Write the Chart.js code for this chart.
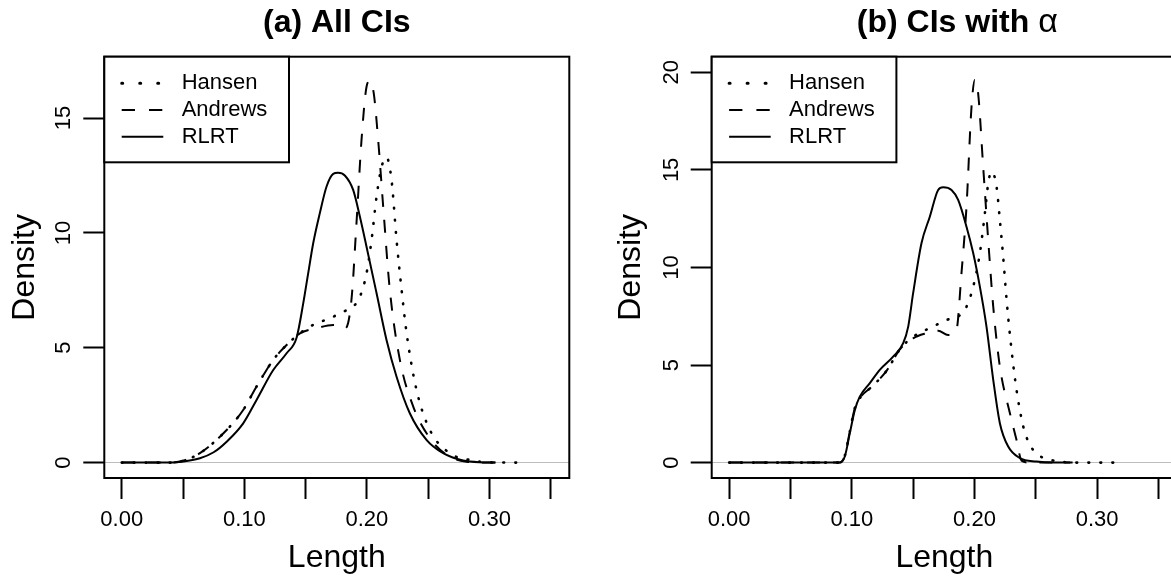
<!DOCTYPE html>
<html>
<head>
<meta charset="utf-8">
<script src="https://cdn.jsdelivr.net/npm/chart.js@4.4.1/dist/chart.umd.min.js"></script>
<style>
  html, body { margin: 0; padding: 0; background: #fff; }
  #wrap { position: relative; width: 1171px; height: 579px; overflow: hidden; background: #fff; }
  canvas { position: absolute; top: 0; }
  #chartA { left: 0; }
  #chartB { left: 585px; }
</style>
</head>
<body>
<div id="wrap">
  <canvas id="chartA" width="585" height="579"></canvas>
  <canvas id="chartB" width="600" height="579"></canvas>
</div>
<script>
const FONT = '"Liberation Sans", Arial, Helvetica, sans-serif'

// x axis, same for both panels
const xTicks = [0, 0.05, 0.10, 0.15, 0.20, 0.25, 0.30, 0.35]
const xTickLabels = ['0.00', '', '0.10', '', '0.20', '', '0.30', '']

// y axis ticks of each panel
const yTicksA = [0, 5, 10, 15]
const yTicksB = [0, 5, 10, 15, 20]

const seriesNames = ['Hansen', 'Andrews', 'RLRT']

// panel (a): All CIs, points are [length, density]
const hansenA = [[0, 0], [0.04, 0], [0.05, 0.08], [0.0638, 0.41], [0.0856, 1.42], [0.0991, 2.29], [0.110, 3.31],
  [0.1236, 4.47], [0.1345, 5.12], [0.1454, 5.63], [0.1535, 5.92], [0.1725, 6.35], [0.1807, 6.57], [0.1888, 6.79],
  [0.1943, 7.22], [0.1997, 8.24], [0.2038, 9.69], [0.2079, 11.58], [0.212, 12.88], [0.216, 13.29], [0.2201, 12.30],
  [0.2242, 9.69], [0.2283, 7.52], [0.2324, 5.63], [0.2405, 3.16], [0.2514, 1.42], [0.2677, 0.41], [0.2867, 0.09],
  [0.30, 0.01], [0.325, 0]]
const andrewsA = [[0, 0], [0.04, 0], [0.05, 0.08], [0.0638, 0.41], [0.0856, 1.42], [0.0991, 2.29], [0.110, 3.31],
  [0.1236, 4.47], [0.1345, 5.12], [0.1454, 5.63], [0.1589, 5.85], [0.1725, 5.99], [0.1795, 5.95], [0.1825, 5.85],
  [0.1874, 7.08], [0.1915, 10.42], [0.1956, 14.04], [0.1997, 16.36], [0.2024, 16.62], [0.2056, 16.07], [0.2092, 14.04],
  [0.2133, 11.14], [0.2187, 7.52], [0.2269, 4.47], [0.2378, 2.44], [0.2514, 1.06], [0.265, 0.34], [0.2813, 0.04],
  [0.295, 0], [0.315, 0]]
const rlrtA = [[0, 0], [0.04, 0], [0.05, 0.05], [0.0638, 0.19], [0.075, 0.45], [0.0856, 0.91], [0.0991, 1.71],
  [0.110, 2.73], [0.1236, 4.03], [0.1345, 4.76], [0.1427, 5.45], [0.1481, 6.94], [0.1521, 8.24], [0.1562, 9.55],
  [0.1616, 10.86], [0.1671, 12.02], [0.1725, 12.57], [0.1765, 12.62], [0.182, 12.5], [0.1888, 11.87], [0.1943, 10.70],
  [0.1997, 9.40], [0.2079, 7.37], [0.216, 5.34], [0.2242, 3.74], [0.235, 2.15], [0.2486, 0.99], [0.2622, 0.41],
  [0.2785, 0.09], [0.2948, 0.01], [0.305, 0]]

// panel (b): CIs with alpha
const hansenB = [[0, 0], [0.09, 0], [0.0943, 0.35], [0.0984, 1.6], [0.1025, 2.8], [0.1065, 3.3], [0.1174, 3.95],
  [0.1283, 4.7], [0.1392, 5.8], [0.15, 6.45], [0.1663, 6.97], [0.1772, 7.31], [0.1867, 7.48], [0.1935, 7.99],
  [0.199, 9.02], [0.2044, 10.73], [0.2085, 12.78], [0.2112, 14.31], [0.2139, 14.91], [0.218, 14.14], [0.2207, 12.43],
  [0.2234, 10.55], [0.2262, 8.33], [0.2302, 5.78], [0.2343, 3.72], [0.2398, 1.84], [0.2452, 0.91], [0.252, 0.39],
  [0.2601, 0.17], [0.2696, 0.05], [0.28, 0], [0.318, 0]]
const andrewsB = [[0, 0], [0.09, 0], [0.0943, 0.35], [0.0984, 1.6], [0.1025, 2.8], [0.1065, 3.3], [0.1174, 3.95],
  [0.1283, 4.7], [0.1392, 5.8], [0.15, 6.37], [0.1609, 6.63], [0.1704, 6.76], [0.1785, 6.54], [0.1853, 6.80],
  [0.1894, 9.70], [0.1935, 13.11], [0.1976, 18.24], [0.2003, 19.61], [0.203, 18.92], [0.2071, 15.16], [0.2112, 11.41],
  [0.2153, 7.99], [0.2207, 4.92], [0.2289, 2.53], [0.2343, 1.16], [0.2384, 0.1], [0.245, 0], [0.28, 0]]
const rlrtB = [[0, 0], [0.09, 0], [0.0943, 0.31], [0.0984, 1.51], [0.1025, 2.70], [0.1065, 3.38], [0.1147, 4.07],
  [0.1228, 4.75], [0.1337, 5.43], [0.1419, 6.12], [0.146, 6.97], [0.15, 8.68], [0.1568, 11.24], [0.1636, 12.60],
  [0.1704, 13.97], [0.1745, 14.11], [0.1813, 13.97], [0.1867, 13.46], [0.1935, 12.09], [0.199, 10.73], [0.2044, 9.02],
  [0.2098, 6.97], [0.2153, 4.24], [0.2207, 2.02], [0.2275, 0.82], [0.237, 0.23], [0.2506, 0.05], [0.265, 0], [0.278, 0]]

// line type of each series (R lty 3, 2, 1)
const lineDash = { Hansen: [0.8, 11.2], Andrews: [13, 13], RLRT: [] }
const lineWidth = { Hansen: 2.6, Andrews: 2, RLRT: 2 }
const legendDash = { Hansen: [1, 17], Andrews: [13.3, 14], RLRT: [] }

// Function that turns the point lists into datasets
const buildDatasets = (curves) => {
  return seriesNames.map((name, i) => ({
    label: name,
    data: curves[i].map(([x, y]) => ({ x, y })),
    borderColor: '#000',
    borderWidth: lineWidth[name],
    borderDash: lineDash[name],
    borderCapStyle: name === 'Hansen' ? 'round' : 'butt',
    pointRadius: 0,
    fill: false,
    cubicInterpolationMode: 'monotone'
  }))
}

// Plugin that draws the R look: box, legend, rotated y labels, main title
const rStyle = {
  id: 'rStyle',
  afterDatasetsDraw(chart, args, opts) {
    const { ctx, chartArea: a } = chart
    ctx.save()
    ctx.strokeStyle = '#000'
    ctx.lineWidth = 2
    ctx.strokeRect(a.left, a.top, a.right - a.left, a.bottom - a.top)

    // legend in the top left corner
    ctx.fillStyle = '#fff'
    ctx.fillRect(a.left, a.top, 184.7, 105.6)
    ctx.strokeRect(a.left, a.top, 184.7, 105.6)
    ctx.font = `22px ${FONT}`
    ctx.textBaseline = 'middle'
    ctx.textAlign = 'left'
    chart.data.datasets.forEach((ds, i) => {
      const y = a.top + 26.6 + i * 26.7
      ctx.beginPath()
      ctx.setLineDash(legendDash[ds.label])
      ctx.lineWidth = ds.label === 'Hansen' ? 3 : 2
      ctx.lineCap = ds.label === 'Hansen' ? 'round' : 'butt'
      ctx.moveTo(a.left + 17.4, y)
      ctx.lineTo(a.left + 59, y)
      ctx.stroke()
      ctx.setLineDash([])
      ctx.fillStyle = '#000'
      ctx.fillText(ds.label, a.left + 77.4, y)
    })
    ctx.restore()
  },
  afterDraw(chart, args, opts) {
    const { ctx, chartArea: a } = chart
    const yScale = chart.scales.y
    ctx.save()
    ctx.fillStyle = '#000'
    ctx.font = `22px ${FONT}`
    ctx.textAlign = 'center'
    ctx.textBaseline = 'middle'
    yScale.ticks.forEach(t => {
      ctx.save()
      ctx.translate(a.left - 40, yScale.getPixelForValue(t.value))
      ctx.rotate(-Math.PI / 2)
      ctx.fillText(String(t.value), 0, 0)
      ctx.restore()
    })

    // main title, bold part and plain part
    const bold = `bold 32px ${FONT}`
    const plain = `34px ${FONT}`
    ctx.font = bold
    const w1 = ctx.measureText(opts.title).width
    ctx.font = plain
    const w2 = opts.symbol ? ctx.measureText(opts.symbol).width : 0
    const x0 = (a.left + a.right) / 2 + (opts.shift || 0) - (w1 + w2) / 2
    ctx.textAlign = 'left'
    ctx.textBaseline = 'alphabetic'
    ctx.font = bold
    ctx.fillText(opts.title, x0, 32)
    if (opts.symbol) {
      ctx.font = plain
      ctx.fillText(opts.symbol, x0 + w1, 32)
    }
    ctx.restore()
  }
}

// Function that creates one panel
const panel = (id, curves, yTicks, yMin, yMax, yWidth, rightPad, densityPad, titleOpts) => {
  const ctx = document.getElementById(id).getContext('2d')
  return new Chart(ctx, {
    type: 'line',
    data: { datasets: buildDatasets(curves) },
    options: {
      responsive: false,
      animation: false,
      layout: { padding: { left: 0, top: 56.7, right: rightPad, bottom: 0 } },
      plugins: {
        legend: { display: false },
        title: { display: false },
        tooltip: { enabled: false },
        rStyle: titleOpts
      },
      scales: {
        x: {
          type: 'linear',
          min: -0.0142,
          max: 0.3651,
          afterBuildTicks: s => { s.ticks = xTicks.map(v => ({ value: v })) },
          afterFit: s => { s.height = 101 },
          border: { display: false },
          grid: { drawOnChartArea: false, tickLength: 21, tickWidth: 2, tickColor: '#000' },
          ticks: {
            autoSkip: false, maxRotation: 0, minRotation: 0, padding: 8, color: '#000',
            font: { family: FONT, size: 22 },
            callback: (v, i) => xTickLabels[i]
          },
          title: {
            display: true, text: 'Length', color: '#000',
            font: { family: FONT, size: 32 }, padding: { top: 0, bottom: 2 }
          }
        },
        y: {
          type: 'linear',
          min: yMin,
          max: yMax,
          afterBuildTicks: s => { s.ticks = yTicks.map(v => ({ value: v })) },
          afterFit: s => { s.width = yWidth },
          border: { display: false },
          grid: {
            color: c => (c.tick && c.tick.value === 0 ? '#bebebe' : 'rgba(0,0,0,0)'),
            lineWidth: 1, tickLength: 21, tickWidth: 2, tickColor: '#000'
          },
          ticks: { display: false },
          title: {
            display: true, text: 'Density', color: '#000',
            font: { family: FONT, size: 32 }, padding: { top: densityPad, bottom: 0 }
          }
        }
      }
    },
    plugins: [rStyle]
  })
}

panel('chartA', [hansenA, andrewsA, rlrtA], yTicksA, -0.67, 17.67, 104.3, 15.7, 6,
  { title: '(a) All CIs', symbol: '', shift: 0 })
panel('chartB', [hansenB, andrewsB, rlrtB], yTicksB, -0.79, 20.8, 126.7, 8, 27,
  { title: '(b) CIs with ', symbol: 'α', shift: 13 })
</script>
</body>
</html>
